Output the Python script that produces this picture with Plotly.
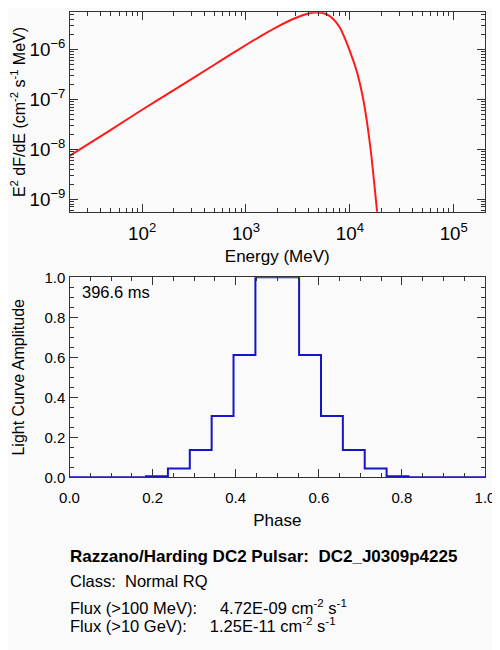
import plotly.graph_objects as go

# ---- Spectrum ----
energy_mev = [20, 50, 100, 200, 500, 700, 1000, 1500, 2000, 3000, 4000, 4700, 5500,
              6500, 8000, 10000, 11700, 13600, 15800, 18300, 20000]
e2dfde = [7.4e-9, 2.45e-8, 6.2e-8, 1.51e-7, 5.0e-7, 7.8e-7, 1.23e-6, 2.04e-6, 2.85e-6,
          4.27e-6, 5.25e-6, 5.53e-6, 5.37e-6, 4.57e-6, 2.75e-6, 9.3e-7, 3.55e-7,
          8.9e-8, 1.05e-8, 5.6e-10, 1e-10]

# ---- Light curve ----
phase = [0.0, 0.0526, 0.1053, 0.1579, 0.2105, 0.2632, 0.3158, 0.3684, 0.4211, 0.4737,
         0.5263, 0.5789, 0.6316, 0.6842, 0.7368, 0.7895, 0.8421, 0.8947, 0.9474, 1.0]
amplitude = [0.0, 0.0, 0.0, 0.0, 0.005, 0.044, 0.137, 0.306, 0.612, 1.0,
             1.0, 0.612, 0.306, 0.137, 0.044, 0.005, 0.0, 0.0, 0.0, 0.0]

period_label = "396.6 ms"
NB = "\u00a0"
info_lines = [
    "<b>Razzano/Harding DC2 Pulsar:" + NB * 2 + "DC2_J0309p4225</b>",
    "Class:" + NB * 2 + "Normal RQ",
    "Flux (>100 MeV):" + NB * 5 + "4.72E-09 cm<sup>-2</sup> s<sup>-1</sup>",
    "Flux (>10 GeV):" + NB * 5 + "1.25E-11 cm<sup>-2</sup> s<sup>-1</sup>",
]
info_sizes = [17, 16.5, 16.5, 16.5]

FONT = "Liberation Sans, Arial, sans-serif"
AX = "#333333"
BG = "#fafafa"
W, H = 492, 642

fig = go.Figure()
fig.add_trace(go.Scatter(x=energy_mev, y=e2dfde, mode="lines",
                         line=dict(color="#ff1a1a", width=2, shape="spline", smoothing=0.8),
                         xaxis="x", yaxis="y", showlegend=False))
fig.add_trace(go.Scatter(x=phase, y=amplitude, mode="lines",
                         line=dict(color="#1414c8", width=2, shape="hvh"),
                         xaxis="x2", yaxis="y2", showlegend=False))

common = dict(showline=True, linecolor=AX, linewidth=1.2, mirror="ticks",
              ticks="inside", tickcolor=AX, ticklen=8, tickwidth=1,
              showgrid=False, zeroline=False, automargin=False,
              tickfont=dict(family=FONT, size=15, color="#000"))

xdom = [61.5 / W, 477 / W]
fig.update_layout(
    template="none",
    width=W, height=H,
    margin=dict(l=0, r=0, t=0, b=0, autoexpand=False),
    paper_bgcolor=BG, plot_bgcolor=BG,
    font=dict(family=FONT, color="#000"),
    xaxis=dict(type="log", range=[1.30103, 5.30103], domain=xdom,
               anchor="y", dtick=1, exponentformat="power", ticklabelstandoff=5,
               minor=dict(ticks="inside", ticklen=4, tickcolor=AX, dtick="D1"),
               title=dict(text="Energy (MeV)", font=dict(family=FONT, size=17), standoff=7),
               **common),
    yaxis=dict(type="log", range=[-9.25, -5.255], domain=[1 - 203.7 / H, 1 - 4.3 / H],
               anchor="x", dtick=1, exponentformat="power",
               minor=dict(ticks="inside", ticklen=4, tickcolor=AX, dtick="D1"),
               title=dict(text="E<sup>2</sup> dF/dE (cm<sup>-2</sup> s<sup>-1</sup> MeV)",
                          font=dict(family=FONT, size=16), standoff=10),
               **common),
    xaxis2=dict(range=[0, 1], domain=xdom, anchor="y2", dtick=0.2,
                tickformat=".1f", ticklabelstandoff=7,
                minor=dict(ticks="inside", ticklen=4, tickcolor=AX, dtick=0.05),
                title=dict(text="Phase", font=dict(family=FONT, size=17), standoff=8),
                **common),
    yaxis2=dict(range=[0, 1], domain=[1 - 469.3 / H, 1 - 269.3 / H], anchor="x2", dtick=0.2,
                tickformat=".1f",
                minor=dict(ticks="inside", ticklen=4, tickcolor=AX, dtick=0.05),
                title=dict(text="Light Curve Amplitude", font=dict(family=FONT, size=16), standoff=15),
                **common),
)

fig.add_annotation(text=period_label, xref="x2 domain", yref="y2 domain",
                   x=0.025, y=0.925, xanchor="left", yanchor="middle", showarrow=False,
                   font=dict(family=FONT, size=16.5, color="#000"))

ys = [548, 573, 599, 617]
for txt, yp, fs in zip(info_lines, ys, info_sizes):
    fig.add_annotation(text=txt, xref="paper", yref="paper",
                       x=60 / W, y=1 - yp / H, xanchor="left", yanchor="middle",
                       showarrow=False, font=dict(family=FONT, size=fs, color="#000"))

fig.write_html("out.html")
